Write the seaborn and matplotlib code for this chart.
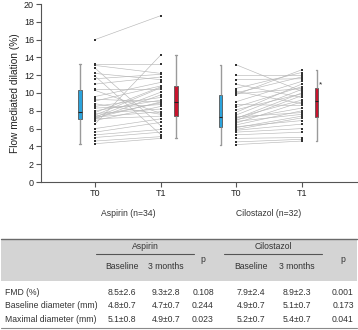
import numpy as np
import pandas as pd
import matplotlib
matplotlib.use('Agg')
import matplotlib.pyplot as plt
import seaborn as sns
from matplotlib.patches import Rectangle

sns.set_theme(style='ticks')
plt.rcParams['font.family'] = ['Liberation Sans', 'DejaVu Sans']

# ---------------- data ----------------
groups = ['Aspirin (n=34)', 'Cilostazol (n=32)']
times = ['T0', 'T1']

asp_t0 = [16.0, 13.3, 13.1, 12.8, 12.2, 11.9, 11.6, 11.0, 10.4, 10.3, 9.6, 9.3,
          9.1, 8.8, 8.5, 8.3, 8.0, 7.8, 7.7, 7.5, 7.4, 7.3, 7.3, 7.2, 7.1, 7.1,
          6.9, 6.5, 6.0, 5.6, 5.3, 5.0, 4.6, 4.3]
asp_t1 = [18.7, 13.3, 12.2, 6.3, 11.5, 5.3, 12.1, 11.8, 10.4, 7.7, 11.2, 9.0,
          10.8, 7.6, 9.5, 8.7, 9.2, 10.7, 8.2, 10.6, 8.9, 10.1, 7.9, 9.0, 9.8, 7.4,
          8.5, 14.3, 7.1, 6.7, 5.9, 5.6, 5.1, 4.9]
cil_t0 = [13.2, 12.0, 11.5, 11.0, 10.5, 10.2, 10.0, 9.9, 9.8, 9.0, 8.7, 8.4,
          8.1, 7.8, 7.5, 7.3, 7.2, 7.1, 7.0, 6.9, 6.8, 6.6, 6.4, 6.2, 6.1, 5.9,
          5.8, 5.6, 5.3, 4.9, 4.5, 4.2]
cil_t1 = [10.2, 12.0, 11.6, 9.5, 12.3, 8.8, 11.8, 10.5, 12.6, 11.3, 8.6, 10.7,
          9.9, 11.0, 10.4, 7.8, 9.2, 10.0, 8.3, 9.7, 7.6, 9.0, 8.0, 6.9, 7.4, 7.2,
          6.5, 6.0, 5.6, 5.0, 4.8, 4.6]

y_ticks = list(range(0, 21, 2))
y_label = 'Flow mediated dilation (%)'
star_text = '*'

table_groups = ['Aspirin', 'Cilostazol']
table_cols = ['Baseline', '3 months', 'p']
table_rows = ['FMD (%)', 'Baseline diameter (mm)', 'Maximal diameter (mm)']
asp_base = ['8.5±2.6', '4.8±0.7', '5.1±0.8']
asp_3m = ['9.3±2.8', '4.7±0.7', '4.9±0.7']
asp_p = ['0.108', '0.244', '0.023']
cil_base = ['7.9±2.4', '4.9±0.7', '5.2±0.7']
cil_3m = ['8.9±2.3', '5.1±0.7', '5.4±0.7']
cil_p = ['0.001', '0.173', '0.041']

# ---------------- layout ----------------
W, H = 358, 330
fig = plt.figure(figsize=(W / 100, H / 100), dpi=100)
ax = fig.add_axes([41 / W, 1 - 182 / H, (357 - 41) / W, (182 - 4) / H])

group_center = {groups[0]: 0.0, groups[1]: 2.13}
box_off = 0.227
box_colors = {'T0': '#2ba3dc', 'T1': '#c8142e'}

records = []
for g, (t0, t1), key in zip(groups, [(asp_t0, asp_t1), (cil_t0, cil_t1)], ['A', 'C']):
    for i, (a, b) in enumerate(zip(t0, t1)):
        for t, v in zip(times, (a, b)):
            px = group_center[g] + (0 if t == 'T0' else 1)
            bx = px - box_off if t == 'T0' else px + box_off
            records.append(dict(group=g, time=t, subj=f'{key}{i}', value=v, px=px, bx=bx))
df = pd.DataFrame(records)

# paired lines
sns.lineplot(data=df, x='px', y='value', units='subj', estimator=None,
             color='#b8b8b8', linewidth=0.45, ax=ax, legend=False)
# points
sns.scatterplot(data=df, x='px', y='value', marker='s', s=1.2, color='#333333',
                linewidth=0, ax=ax, legend=False, zorder=3)
# boxes
for g in groups:
    for t in times:
        sub = df[(df.group == g) & (df.time == t)]
        sns.boxplot(x=sub['bx'], y=sub['value'], native_scale=True, orient='x',
                    width=0.05, color=box_colors[t], saturation=1,
                    showfliers=False, linewidth=0.6, linecolor='#555555',
                    whiskerprops=dict(color='#9a9a9a', linewidth=1.0),
                    capprops=dict(color='#9a9a9a', linewidth=1.0),
                    medianprops=dict(color='#222222', linewidth=0.8),
                    ax=ax)

ax.text(3.42, 10.9, star_text, fontsize=6, color='#222222', ha='center', va='center')

ax.set_xlim(-0.818, 3.97)
ax.set_ylim(0, 20)
ax.set_yticks(y_ticks)
ax.set_yticklabels([str(v) for v in y_ticks])
xt = [group_center[g] + k for g in groups for k in (0, 1)]
ax.set_xticks(xt)
ax.set_xticklabels(times * 2)
ax.set_xlabel('')
ax.set_ylabel(y_label, fontsize=7.3, color='#222222', labelpad=3)
for s in ['top', 'right']:
    ax.spines[s].set_visible(False)
for s in ['left', 'bottom']:
    ax.spines[s].set_color('#555555')
    ax.spines[s].set_linewidth(0.8)
ax.tick_params(axis='both', length=3.5, width=0.8, color='#555555',
               labelsize=6.5, labelcolor='#222222', pad=1.5)
ax.set_facecolor('none')

# ---------------- table overlay ----------------
tab = fig.add_axes([0, 0, 1, 1])
tab.set_xlim(0, W)
tab.set_ylim(H, 0)
tab.axis('off')
tab.patch.set_alpha(0)

tc = '#333333'
fs = 6.2
for g in groups:
    cx = 95 + 66 * group_center[g] + 33
    tab.text(cx, 214, g, ha='center', va='center', fontsize=fs, color=tc)

tab.add_patch(Rectangle((1, 239), 356, 42, fc='#d4d4d4', ec='none'))
tab.plot([1, 357], [239, 239], color='#6a6a6a', lw=1.0)
tab.plot([1, 357], [328, 328], color='#8a8a8a', lw=0.8)

hdr_x = [145.7, 273]
line_x = [(95.7, 194), (224, 322)]
for name, cx, (l0, l1) in zip(table_groups, hdr_x, line_x):
    tab.text(cx, 246.7, name, ha='center', va='center', fontsize=fs, color=tc)
    tab.plot([l0, l1], [254, 254], color='#555555', lw=0.8)

col_x = [122, 166, 203, 251, 297, 343]
sub_hdr = table_cols * 2
for x, lab in zip(col_x, sub_hdr):
    yy = 259 if lab == 'p' else 266.7
    tab.text(x, yy, lab, ha='center', va='center', fontsize=fs, color=tc)

row_y = [292.3, 306, 319.3]
cols = [asp_base, asp_3m, asp_p, cil_base, cil_3m, cil_p]
for r, (lab, yy) in enumerate(zip(table_rows, row_y)):
    tab.text(5, yy, lab, ha='left', va='center', fontsize=fs, color=tc)
    for x, col in zip(col_x, cols):
        tab.text(x, yy, col[r], ha='center', va='center', fontsize=fs, color=tc)

fig.savefig('out.png', dpi=100)
